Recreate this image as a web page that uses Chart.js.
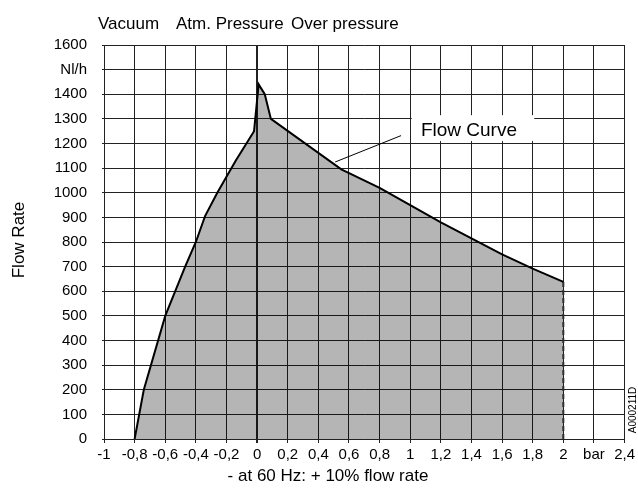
<!DOCTYPE html>
<html lang="en">
<head>
    <meta charset="UTF-8">
    <title>Flow Curve</title>
    <script src="https://cdn.jsdelivr.net/npm/chart.js"></script>
    <style>
        body {
            margin: 0;
            padding: 0;
            background: #ffffff;
        }
        .wrap {
            width: 638px;
            height: 499px;
        }
    </style>
</head>
<body>

<div class="wrap">
    <canvas id="myChart" width="638" height="499"></canvas>
</div>

<script>
    // Flow curve (x in bar, y in Nl/h)
    const flowX = [-0.8, -0.74, -0.6, -0.47, -0.4, -0.34, -0.26, -0.14, -0.02, 0.01, 0.05, 0.09, 0.55, 0.8, 1.0, 1.2, 1.4, 1.6, 1.8, 2.0];
    const flowY = [0, 200, 500, 700, 800, 905, 1000, 1130, 1250, 1440, 1400, 1300, 1095, 1020, 950, 880, 815, 750, 692, 638];

    // dashed limit at 2 bar
    const limitX = [2.0, 2.0];
    const limitY = [0, 638];

    // Tick labels
    const xTickValues = [-1, -0.8, -0.6, -0.4, -0.2, 0, 0.2, 0.4, 0.6, 0.8, 1, 1.2, 1.4, 1.6, 1.8, 2, 2.2, 2.4];
    const xTickLabels = ['-1', '-0,8', '-0,6', '-0,4', '-0,2', '0', '0,2', '0,4', '0,6', '0,8', '1', '1,2', '1,4', '1,6', '1,8', '2', 'bar', '2,4'];
    const yTickValues = [0, 100, 200, 300, 400, 500, 600, 700, 800, 900, 1000, 1100, 1200, 1300, 1400, 1500, 1600];
    const yTickLabels = ['0', '100', '200', '300', '400', '500', '600', '700', '800', '900', '1000', '1100', '1200', '1300', '1400', 'Nl/h', '1600'];

    const topLabels = ['Vacuum', 'Atm. Pressure', 'Over pressure'];

    const FONT = "'Liberation Sans', Arial, sans-serif";

    // extra texts: header, axis title, footer, flow curve callout
    const extrasPlugin = {
        id: 'extras',
        afterDraw(chart) {
            const c = chart.ctx;
            const xs = chart.scales.x;
            const ys = chart.scales.y;
            c.save();
            c.fillStyle = '#000';
            c.textBaseline = 'alphabetic';

            // header
            c.font = '17px ' + FONT;
            c.textAlign = 'left';
            c.fillText(topLabels[0], 98, 29);
            c.fillText(topLabels[1], 176, 29);
            c.fillText(topLabels[2], 291, 29);

            // footer
            c.textAlign = 'center';
            c.fillText('- at 60 Hz: + 10% flow rate', 328, 481);

            // y title
            c.save();
            c.translate(24, 240);
            c.rotate(-Math.PI / 2);
            c.textAlign = 'center';
            c.fillText('Flow Rate', 0, 0);
            c.restore();

            // code mark
            c.save();
            c.font = '10px ' + FONT;
            c.translate(636, 410);
            c.rotate(-Math.PI / 2);
            c.textAlign = 'center';
            c.fillText('A000211D', 0, 0);
            c.restore();

            // callout
            c.strokeStyle = '#000';
            c.lineWidth = 1;
            c.beginPath();
            c.moveTo(xs.getPixelForValue(0.51), ys.getPixelForValue(1125));
            c.lineTo(xs.getPixelForValue(0.94), ys.getPixelForValue(1232));
            c.stroke();

            const bx0 = xs.getPixelForValue(1.01);
            const bx1 = xs.getPixelForValue(1.81);
            const by0 = ys.getPixelForValue(1315);
            const by1 = ys.getPixelForValue(1210);
            c.fillStyle = '#fff';
            c.fillRect(bx0, by0, bx1 - bx0, by1 - by0);
            c.fillStyle = '#000';
            c.font = '19px ' + FONT;
            c.textAlign = 'left';
            c.fillText('Flow Curve', xs.getPixelForValue(1.07), ys.getPixelForValue(1232));
            c.restore();
        }
    };

    const ctx = document.getElementById('myChart').getContext('2d');

    let myChart = new Chart(ctx, {
        type: 'line',
        data: {
            datasets: [{
                label: 'Flow Curve',
                data: flowX.map((x, i) => ({ x: x, y: flowY[i] })),
                borderColor: '#000',
                borderWidth: 2,
                backgroundColor: 'rgba(0, 0, 0, 0.29)',
                fill: 'origin',
                tension: 0,
                pointRadius: 0
            }, {
                label: 'limit',
                data: limitX.map((x, i) => ({ x: x, y: limitY[i] })),
                borderColor: '#333',
                borderWidth: 2,
                borderDash: [5, 3],
                fill: false,
                pointRadius: 0
            }]
        },
        options: {
            responsive: false,
            animation: false,
            layout: { padding: { top: 45, right: 10, bottom: 0, left: 0 } },
            plugins: {
                legend: { display: false },
                tooltip: { enabled: false }
            },
            scales: {
                x: {
                    type: 'linear',
                    min: -1,
                    max: 2.4,
                    afterBuildTicks: s => { s.ticks = xTickValues.map(v => ({ value: v })); },
                    afterFit: s => { s.height = 60; },
                    grid: {
                        color: '#222',
                        lineWidth: c => (c.tick && c.tick.value === 0 ? 2 : 1),
                        tickLength: 4
                    },
                    border: { color: '#222' },
                    ticks: {
                        color: '#000',
                        font: { family: FONT, size: 15 },
                        padding: 3,
                        maxRotation: 0,
                        autoSkip: false,
                        callback: (v, i) => xTickLabels[i]
                    }
                },
                y: {
                    min: 0,
                    max: 1600,
                    afterBuildTicks: s => { s.ticks = yTickValues.map(v => ({ value: v })); },
                    afterFit: s => { s.width = 104; },
                    grid: {
                        color: '#222',
                        lineWidth: 1,
                        tickLength: 2
                    },
                    border: { color: '#222' },
                    ticks: {
                        color: '#000',
                        font: { family: FONT, size: 15 },
                        padding: 15,
                        autoSkip: false,
                        callback: (v, i) => yTickLabels[i]
                    }
                }
            }
        },
        plugins: [extrasPlugin]
    });
</script>

</body>
</html>
